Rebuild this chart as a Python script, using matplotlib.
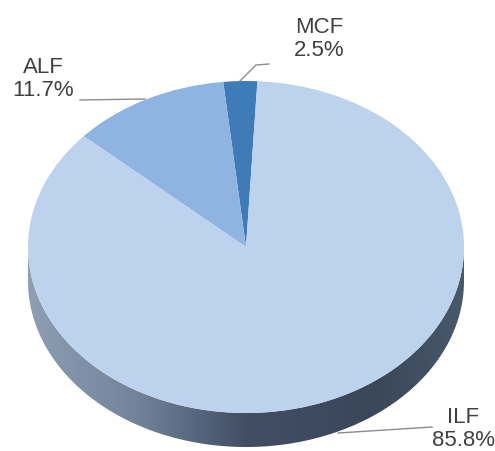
import matplotlib
matplotlib.use("Agg")
import matplotlib.pyplot as plt
import numpy as np
from matplotlib.patches import Polygon

labels = ["MCF", "ALF", "ILF"]
values = [2.5, 11.7, 85.8]
colors = ["#3f7bb6", "#8fb4e1", "#bdd2ed"]

W, H = 495, 451
# ellipse of the pie top, in pixels
cx, cy, rx, ry = 246, 247, 218, 166
depth = 34


def to_data(px, py):
    return (px - cx) / rx, (cy - py) / ry


plt.rcParams["font.family"] = ["Liberation Sans", "DejaVu Sans"]
fig = plt.figure(figsize=(W / 100, H / 100), dpi=100)
ax = fig.add_axes([0, 0, 1, 1])

# side of the pie, gradient clipped to the lower half of the rim
t = np.linspace(np.pi, 2 * np.pi, 200)
d = depth / ry
rim = np.column_stack([
    np.r_[np.cos(t), np.cos(t[::-1])],
    np.r_[np.sin(t), np.sin(t[::-1]) - d],
])
side = Polygon(rim, closed=True, facecolor="none", edgecolor="none")
ax.add_patch(side)
grad = np.array([0.0, 0.25, 0.5, 0.8, 1.0])
grad_col = np.array([[0x8e, 0x9f, 0xb4], [0x72, 0x83, 0x9a], [0x41, 0x4e, 0x63],
                     [0x3a, 0x47, 0x5b], [0x4a, 0x58, 0x6c]]) / 255
xs = np.linspace(0, 1, 256)
img = np.stack([np.interp(xs, grad, grad_col[:, i]) for i in range(3)], axis=1)[None, :, :]
im = ax.imshow(img, extent=[-1, 1, -1 - d, 0], aspect="auto", zorder=1)
im.set_clip_path(side)

wedges, _ = ax.pie(values, colors=colors, startangle=87, radius=1, center=(0, 0),
                   frame=False, wedgeprops={"linewidth": 0, "zorder": 2})
ax.set_aspect("auto")
ax.set_xlim(-cx / rx, (W - cx) / rx)
ax.set_ylim((cy - H) / ry, cy / ry)
ax.axis("off")

# leader lines
leaders = [
    [(240, 81), (256, 65), (269, 64)],
    [(145, 99), (80, 100)],
    [(338, 433), (432, 427)],
]
for pts in leaders:
    xy = np.array([to_data(*p) for p in pts])
    ax.plot(xy[:, 0], xy[:, 1], color="#8c8c8c", lw=1.0, zorder=3)

text_pos = [(319, 39), (43, 79), (463, 429)]
for name, val, (px, py) in zip(labels, values, text_pos):
    x, y = to_data(px, py)
    ax.text(x, y, f"{name}\n{val}%", ha="center", va="center", fontsize=16,
            color="#404040", linespacing=1.15, zorder=4)

fig.savefig("out.png", dpi=100, facecolor="white")
